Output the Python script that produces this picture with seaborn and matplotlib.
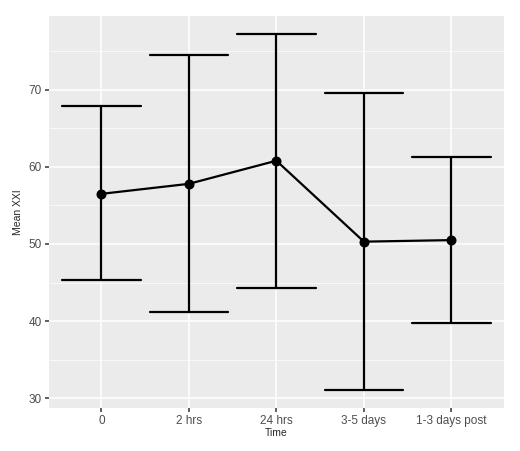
import numpy as np
import pandas as pd
import seaborn as sns
import matplotlib.pyplot as plt

# values
times = ["0", "2 hrs", "24 hrs", "3-5 days", "1-3 days post"]
means = [56.5, 57.8, 60.8, 50.3, 50.5]
lower = [45.3, 41.2, 44.3, 31.0, 39.7]
upper = [67.9, 74.5, 77.3, 69.6, 61.3]

sns.set_theme(style="darkgrid", rc={
    "axes.facecolor": "#EBEBEB",
    "grid.color": "white",
    "axes.edgecolor": "#EBEBEB",
    "xtick.color": "#4D4D4D",
    "ytick.color": "#4D4D4D",
    "xtick.bottom": True,
    "ytick.left": True,
    "xtick.major.size": 3,
    "ytick.major.size": 3,
})
plt.rcParams["font.family"] = ["Liberation Sans", "DejaVu Sans"]

# long table: low / mean / high per time, median picks the mean, 100% interval gives the bars
df = pd.DataFrame({
    "Time": times * 3,
    "val": lower + means + upper,
})

fig = plt.figure(figsize=(5.2, 4.51), dpi=100)
ax = fig.add_axes([0.094, 0.095, 0.875, 0.87])

sns.pointplot(data=df, x="Time", y="val", order=times, estimator="median",
              errorbar=("pi", 100), capsize=0.9, color="black",
              markersize=6, linewidth=1.6, err_kws={"linewidth": 1.6}, ax=ax)

ax.set_xlim(-0.6, 4.6)
ax.set_ylim(28.7, 79.6)
ax.set_yticks([30, 40, 50, 60, 70])
ax.set_yticks([35, 45, 55, 65, 75], minor=True)
ax.grid(which="major", color="white", linewidth=1.1)
ax.grid(which="minor", axis="y", color="white", linewidth=0.5)
ax.tick_params(which="minor", length=0)
ax.tick_params(labelsize=8.5, pad=2)
ax.set_xlabel("Time", fontsize=7.5, labelpad=1)
ax.set_ylabel("Mean XXI", fontsize=7.5, labelpad=4)
for s in ax.spines.values():
    s.set_visible(False)

fig.savefig("out.png", dpi=100)
